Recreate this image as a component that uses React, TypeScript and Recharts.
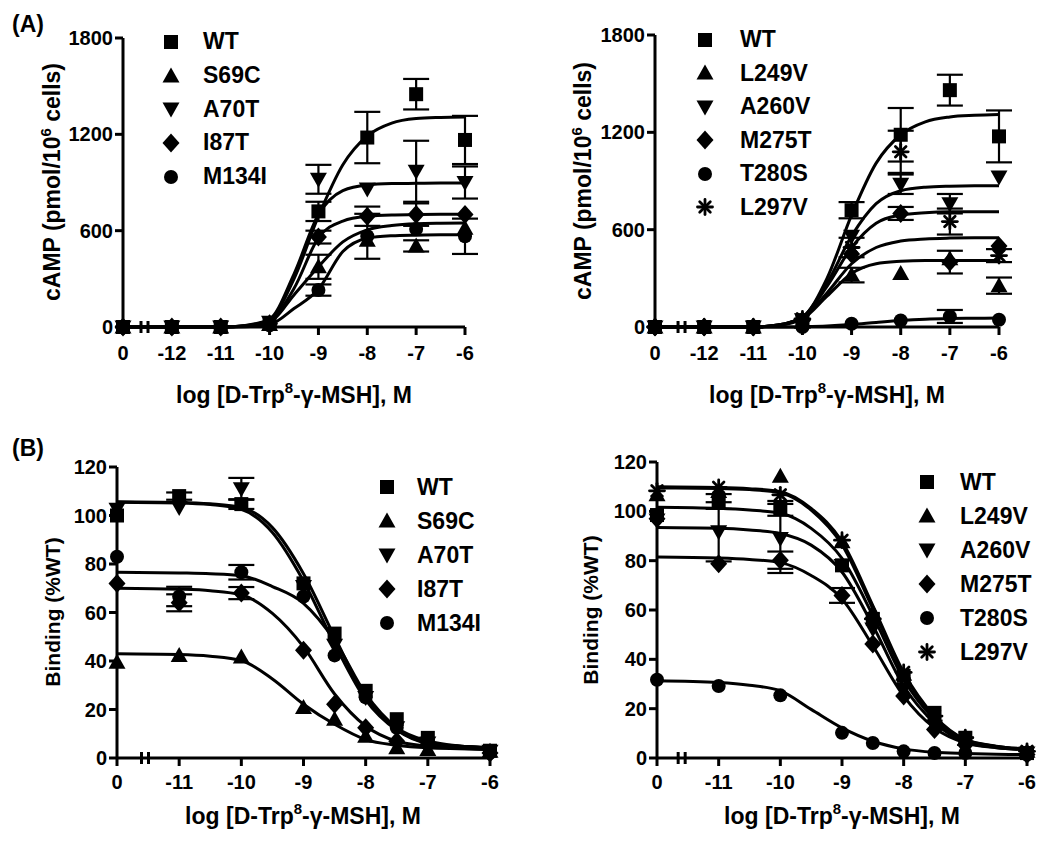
import React from "react";
import {
  ComposedChart,
  Line,
  Scatter,
  XAxis,
  YAxis,
  ErrorBar,
  ReferenceDot,
  Legend,
} from "recharts";

const FONT = "'Liberation Sans', Arial, Helvetica, sans-serif";

// ─── Doses (log M); 0 = no ligand, drawn one slot left of the first dose ─────

const dosesA = [0, -12, -11, -10, -9, -8, -7, -6];
const fitDosesA = [0, -12, -11, -10.5, -10, -9.5, -9, -8.5, -8, -7.5, -7, -6.5, -6];
const xTicksA = [0, -12, -11, -10, -9, -8, -7, -6];
const yTicksA = [0, 600, 1200, 1800];

const dosesB = [0, -11, -10, -9, -8.5, -8, -7.5, -7, -6];
const fitDosesB = [0, -11, -10.5, -10, -9.5, -9, -8.5, -8, -7.5, -7, -6.5, -6];
const xTicksB = [0, -11, -10, -9, -8, -7, -6];
const yTicksB = [0, 20, 40, 60, 80, 100, 120];

// ─── (A) cAMP, left ───────────────────────────────────────────────────────────

const a1WT = [0, 0, 0, 20, 720, 1180, 1450, 1165];
const a1WTsem = [0, 0, 0, 0, 60, 160, 95, 150];
const a1WTfit = [0, 0, 0, 8, 45, 300, 690, 1010, 1190, 1270, 1298, 1305, 1308];
const a1S69C = [0, 0, 0, 15, 375, 540, 505, 615];
const a1S69Csem = [0, 0, 0, 0, 75, 0, 35, 0];
const a1S69Cfit = [0, 0, 0, 4, 30, 200, 375, 530, 605, 632, 643, 646, 647];
const a1A70T = [0, 0, 0, 30, 920, 860, 970, 900];
const a1A70Tsem = [0, 0, 0, 0, 90, 0, 190, 100];
const a1A70Tfit = [0, 0, 0, 10, 50, 330, 700, 850, 885, 893, 895, 897, 897];
const a1I87T = [0, 0, 0, 20, 560, 690, 700, 700];
const a1I87Tsem = [0, 0, 0, 0, 40, 60, 70, 0];
const a1I87Tfit = [0, 0, 0, 7, 40, 240, 555, 660, 690, 698, 700, 702, 703];
const a1M134I = [0, 0, 0, 10, 230, 565, 610, 565];
const a1M134Isem = [0, 0, 0, 0, 35, 140, 0, 110];
const a1M134Ifit = [0, 0, 0, 2, 15, 115, 235, 470, 553, 568, 572, 574, 574];

// ─── (A) cAMP, right ──────────────────────────────────────────────────────────

const a2WT = [0, 0, 0, 40, 720, 1185, 1460, 1175];
const a2WTsem = [0, 0, 0, 0, 50, 165, 95, 160];
const a2WTfit = [0, 0, 0, 12, 60, 300, 690, 1010, 1185, 1265, 1295, 1305, 1310];
const a2L249V = [0, 0, 0, 30, 320, 330, 420, 255];
const a2L249Vsem = [0, 0, 0, 0, 45, 0, 0, 50];
const a2L249Vfit = [0, 0, 0, 10, 50, 190, 330, 390, 405, 410, 410, 410, 410];
const a2A260V = [0, 0, 0, 45, 560, 880, 760, 925];
const a2A260Vsem = [0, 0, 0, 0, 0, 60, 60, 0];
const a2A260Vfit = [0, 0, 0, 12, 60, 270, 560, 760, 840, 862, 868, 870, 870];
const a2M275T = [0, 0, 0, 40, 450, 700, 400, 500];
const a2M275Tsem = [0, 0, 0, 0, 0, 40, 70, 0];
const a2M275Tfit = [0, 0, 0, 10, 55, 210, 390, 490, 530, 543, 548, 550, 550];
const a2T280S = [0, 0, 0, 0, 20, 40, 65, 45];
const a2T280Ssem = [0, 0, 0, 0, 0, 0, 40, 0];
const a2T280Sfit = [0, 0, 0, 0, 2, 6, 15, 28, 40, 48, 52, 54, 55];
const a2L297V = [0, 0, 0, 50, 490, 1080, 650, 440];
const a2L297Vsem = [0, 0, 0, 0, 60, 130, 80, 40];
const a2L297Vfit = [0, 0, 0, 12, 60, 250, 490, 640, 690, 705, 710, 710, 710];

// ─── (B) Binding, left ────────────────────────────────────────────────────────

const b1WT = [100, 108, 104.7, 72, 51.3, 27.7, 16, 8.3, 3];
const b1WTsem = [0, 1.5, 2, 0, 0, 0, 0, 0, 0];
const b1WTfit = [105.7, 105.4, 104.8, 103.3, 95, 76, 50, 25, 11.8, 6.2, 4.9, 4.2];
const b1S69C = [39.5, 42.3, 41.6, 20.8, 16, 9, 4.2, 3.5, 2.8];
const b1S69Csem = [0, 0, 0, 0, 0, 0, 0, 0, 0];
const b1S69Cfit = [43, 42.7, 42, 40.2, 32.6, 22.2, 13.9, 7.6, 5.3, 4.2, 3.8, 3.5];
const b1A70T = [102.6, 103.3, 111, 70.7, 46.5, 25, 12.5, 6.2, 2.8];
const b1A70Tsem = [0, 0, 4.5, 0, 0, 0, 0, 0, 0];
const b1A70Tfit = [105.5, 105.2, 104.5, 102.5, 93, 73, 47, 24, 11.5, 6, 4.8, 4.1];
const b1I87T = [72, 64, 68, 44.4, 22.2, 12.5, 6.9, 5.5, 2.1];
const b1I87Tsem = [0, 3.5, 2.5, 0, 0, 0, 0, 0, 0];
const b1I87Tfit = [70, 69.6, 69, 67.3, 59.6, 45.8, 26.4, 13.2, 6.9, 4.9, 4, 3.5];
const b1M134I = [83, 66.6, 76.6, 66.6, 42.3, 25, 12.5, 6.9, 2.1];
const b1M134Isem = [0, 4, 3, 0, 0, 0, 0, 0, 0];
const b1M134Ifit = [76.6, 76.3, 76, 75.2, 70.7, 63.8, 48.5, 26.4, 12.5, 7, 5, 4.4];

// ─── (B) Binding, right ───────────────────────────────────────────────────────

const b2WT = [98.5, 104, 101.2, 78.1, 56.4, 33.3, 18.3, 8.2, 2];
const b2WTsem = [0, 3, 3, 0, 0, 0, 0, 0, 0];
const b2WTfit = [101.7, 101.2, 100.5, 99.2, 93.1, 80.9, 57.8, 31.9, 15.6, 6.8, 4.5, 3.4];
const b2L249V = [106.7, 108, 114.2, 87.7, 59, 34, 17, 7.5, 2.7];
const b2L249Vsem = [0, 0, 0, 0, 0, 0, 0, 0, 0];
const b2L249Vfit = [109.5, 109.3, 108.8, 107.5, 100.5, 86.5, 60.5, 34, 16.5, 7.3, 4.7, 3.6];
const b2A260V = [96.5, 91.7, 89, 78, 52.3, 27.9, 12.9, 6.1, 2];
const b2A260Vsem = [0, 12, 14, 0, 0, 0, 0, 0, 0];
const b2A260Vfit = [93.4, 93.1, 92.4, 91, 86.3, 75.4, 53.7, 29.2, 14.3, 6.5, 4.3, 3.4];
const b2M275T = [97, 78.8, 80.2, 65.9, 46.2, 25.1, 11.6, 5.4, 1.4];
const b2M275Tsem = [0, 0, 3.5, 3, 0, 0, 0, 0, 0];
const b2M275Tfit = [81.5, 81.1, 80.5, 79.2, 74, 64.5, 45.5, 25.1, 12.2, 6.1, 4.2, 3.4];
const b2T280S = [31.7, 29.2, 25.4, 10.2, 6.1, 2.7, 2, 2, 1.4];
const b2T280Ssem = [0, 0, 0, 0, 0, 0, 0, 0, 0];
const b2T280Sfit = [31.3, 30.6, 29.5, 27.2, 19.7, 12.2, 6.8, 3.7, 2.3, 1.8, 1.5, 1.4];
const b2L297V = [108.3, 109.7, 106.7, 88.3, 56.4, 34.7, 17, 8.2, 2.7];
const b2L297Vsem = [0, 0, 0, 0, 0, 0, 0, 0, 0];
const b2L297Vfit = [110, 109.7, 109.2, 108, 101.2, 87.7, 61.8, 34.7, 17, 7.5, 4.8, 3.7];

// ─── Symbols ──────────────────────────────────────────────────────────────────

type Kind = "square" | "up" | "down" | "diamond" | "circle" | "star";

const SYMBOL: Record<string, Kind> = {
  WT: "square",
  S69C: "up",
  L249V: "up",
  A70T: "down",
  A260V: "down",
  I87T: "diamond",
  M275T: "diamond",
  M134I: "circle",
  T280S: "circle",
  L297V: "star",
};

function Marker({ kind, cx, cy }: { kind: Kind; cx: number; cy: number }) {
  if (cx == null || cy == null || isNaN(cx) || isNaN(cy)) return null;
  switch (kind) {
    case "square":
      return <rect x={cx - 7} y={cy - 7} width={14} height={14} fill="#000" />;
    case "up":
      return (
        <polygon
          points={`${cx},${cy - 8.5} ${cx + 8.5},${cy + 6.5} ${cx - 8.5},${cy + 6.5}`}
          fill="#000"
        />
      );
    case "down":
      return (
        <polygon
          points={`${cx},${cy + 8.5} ${cx + 8.5},${cy - 6.5} ${cx - 8.5},${cy - 6.5}`}
          fill="#000"
        />
      );
    case "diamond":
      return (
        <polygon
          points={`${cx},${cy - 9.5} ${cx + 8.5},${cy} ${cx},${cy + 9.5} ${cx - 8.5},${cy}`}
          fill="#000"
        />
      );
    case "circle":
      return <circle cx={cx} cy={cy} r={7} fill="#000" />;
    case "star":
      return (
        <g stroke="#000" strokeWidth={2.8} strokeLinecap="round">
          <line x1={cx - 7.5} y1={cy} x2={cx + 7.5} y2={cy} />
          <line x1={cx} y1={cy - 7.5} x2={cx} y2={cy + 7.5} />
          <line x1={cx - 5.3} y1={cy - 5.3} x2={cx + 5.3} y2={cy + 5.3} />
          <line x1={cx - 5.3} y1={cy + 5.3} x2={cx + 5.3} y2={cy - 5.3} />
        </g>
      );
  }
  return null;
}

// ─── Axis decorations ─────────────────────────────────────────────────────────

function BreakMark(props: any) {
  const { cx, cy } = props;
  if (cx == null || cy == null) return null;
  return (
    <g stroke="#000" strokeWidth={3}>
      <line x1={cx - 3.5} y1={cy - 6} x2={cx - 3.5} y2={cy + 6} />
      <line x1={cx + 3.5} y1={cy - 6} x2={cx + 3.5} y2={cy + 6} />
    </g>
  );
}

function XTitle({ px, py }: { px: number; py: number }) {
  return (
    <text
      x={px}
      y={py}
      textAnchor="middle"
      fontFamily={FONT}
      fontWeight={700}
      fontSize={23}
      fill="#000"
    >
      log [D-Trp
      <tspan dy={-10} fontSize={15}>
        8
      </tspan>
      <tspan dy={10}>-γ-MSH], M</tspan>
    </text>
  );
}

function YTitle({
  px,
  py,
  size,
  children,
}: {
  px: number;
  py: number;
  size: number;
  children?: React.ReactNode;
}) {
  return (
    <text
      x={px}
      y={py + size * 0.36}
      transform={`rotate(-90, ${px}, ${py})`}
      textAnchor="middle"
      fontFamily={FONT}
      fontWeight={700}
      fontSize={size}
      fill="#000"
    >
      {children}
    </text>
  );
}

function LegendBox({
  names,
  rowH,
  gap,
}: {
  names: string[];
  rowH: number;
  gap: number;
}) {
  return (
    <div style={{ fontFamily: FONT, fontWeight: 700, fontSize: 23, color: "#000" }}>
      {names.map((n) => (
        <div
          key={n}
          style={{ height: rowH, display: "flex", alignItems: "center" }}
        >
          <svg width={20} height={20} style={{ flexShrink: 0 }}>
            <Marker kind={SYMBOL[n]} cx={10} cy={10} />
          </svg>
          <span style={{ marginLeft: gap, lineHeight: 1 }}>{n}</span>
        </div>
      ))}
    </div>
  );
}

// ─── Panel ────────────────────────────────────────────────────────────────────

interface Series {
  name: string;
  mean: number[];
  sem: number[];
  fit: number[];
}

interface PanelProps {
  left: number;
  top: number;
  width: number;
  height: number;
  margin: { top: number; right: number; bottom: number; left: number };
  xAxisH: number;
  tickGap: number;
  zero: number;
  breakAt: number;
  doses: number[];
  fitDoses: number[];
  xTicks: number[];
  yMax: number;
  yTicks: number[];
  series: Series[];
  yTitle: React.ReactNode;
  yTitleSize: number;
  yTitlePos: [number, number];
  xTitlePos: [number, number];
  legend: { left: number; top: number; rowH: number; gap: number };
}

const slot = (d: number, zero: number) => (d === 0 ? zero : d);

function Panel(p: PanelProps) {
  const tickStyle = { fill: "#000", fontSize: 20, fontWeight: 700, fontFamily: FONT };
  const axisLine = { stroke: "#000", strokeWidth: 3 };
  const ticks = p.xTicks.map((t) => slot(t, p.zero));

  return (
    <div style={{ position: "absolute", left: p.left, top: p.top }}>
      <ComposedChart width={p.width} height={p.height} margin={p.margin}>
        <XAxis
          type="number"
          dataKey="x"
          domain={[p.zero, -6]}
          ticks={ticks}
          interval={0}
          tickFormatter={(v: number) => (v === p.zero ? "0" : String(v))}
          height={p.xAxisH}
          axisLine={axisLine}
          tickLine={axisLine}
          tickSize={8}
          tickMargin={p.tickGap}
          tick={tickStyle}
          label={<XTitle px={p.xTitlePos[0]} py={p.xTitlePos[1]} />}
        />
        <YAxis
          type="number"
          dataKey="y"
          domain={[0, p.yMax]}
          ticks={p.yTicks}
          interval={0}
          width={100}
          axisLine={axisLine}
          tickLine={axisLine}
          tickSize={8}
          tickMargin={2}
          tick={tickStyle}
          label={
            <YTitle px={p.yTitlePos[0]} py={p.yTitlePos[1]} size={p.yTitleSize}>
              {p.yTitle}
            </YTitle>
          }
        />
        <ReferenceDot x={p.breakAt} y={0} r={0} shape={BreakMark} />

        {p.series.map((s) => (
          <Line
            key={`fit-${s.name}`}
            data={s.fit.map((v, i) => ({ x: slot(p.fitDoses[i], p.zero), y: v }))}
            dataKey="y"
            type="monotone"
            stroke="#000"
            strokeWidth={3}
            dot={false}
            activeDot={false}
            isAnimationActive={false}
          />
        ))}

        {p.series.map((s) => (
          <Scatter
            key={`pts-${s.name}`}
            name={s.name}
            data={s.mean.map((v, i) => ({
              x: slot(p.doses[i], p.zero),
              y: v,
              e: s.sem[i],
            }))}
            dataKey="y"
            isAnimationActive={false}
            shape={(props: any) => (
              <Marker kind={SYMBOL[s.name]} cx={props.cx} cy={props.cy} />
            )}
          >
            <ErrorBar
              dataKey="e"
              direction="y"
              width={13}
              strokeWidth={2.2}
              stroke="#000"
              isAnimationActive={false}
            />
          </Scatter>
        ))}

        <Legend
          layout="horizontal"
          verticalAlign="middle"
          align="center"
          wrapperStyle={{
            left: p.legend.left,
            top: p.legend.top,
            width: 220,
            height: p.legend.rowH * p.series.length,
          }}
          content={
            <LegendBox
              names={p.series.map((s) => s.name)}
              rowH={p.legend.rowH}
              gap={p.legend.gap}
            />
          }
        />
      </ComposedChart>
    </div>
  );
}

// ─── Series lists ─────────────────────────────────────────────────────────────

const seriesA1: Series[] = [
  { name: "WT", mean: a1WT, sem: a1WTsem, fit: a1WTfit },
  { name: "S69C", mean: a1S69C, sem: a1S69Csem, fit: a1S69Cfit },
  { name: "A70T", mean: a1A70T, sem: a1A70Tsem, fit: a1A70Tfit },
  { name: "I87T", mean: a1I87T, sem: a1I87Tsem, fit: a1I87Tfit },
  { name: "M134I", mean: a1M134I, sem: a1M134Isem, fit: a1M134Ifit },
];

const seriesA2: Series[] = [
  { name: "WT", mean: a2WT, sem: a2WTsem, fit: a2WTfit },
  { name: "L249V", mean: a2L249V, sem: a2L249Vsem, fit: a2L249Vfit },
  { name: "A260V", mean: a2A260V, sem: a2A260Vsem, fit: a2A260Vfit },
  { name: "M275T", mean: a2M275T, sem: a2M275Tsem, fit: a2M275Tfit },
  { name: "T280S", mean: a2T280S, sem: a2T280Ssem, fit: a2T280Sfit },
  { name: "L297V", mean: a2L297V, sem: a2L297Vsem, fit: a2L297Vfit },
];

const seriesB1: Series[] = [
  { name: "WT", mean: b1WT, sem: b1WTsem, fit: b1WTfit },
  { name: "S69C", mean: b1S69C, sem: b1S69Csem, fit: b1S69Cfit },
  { name: "A70T", mean: b1A70T, sem: b1A70Tsem, fit: b1A70Tfit },
  { name: "I87T", mean: b1I87T, sem: b1I87Tsem, fit: b1I87Tfit },
  { name: "M134I", mean: b1M134I, sem: b1M134Isem, fit: b1M134Ifit },
];

const seriesB2: Series[] = [
  { name: "WT", mean: b2WT, sem: b2WTsem, fit: b2WTfit },
  { name: "L249V", mean: b2L249V, sem: b2L249Vsem, fit: b2L249Vfit },
  { name: "A260V", mean: b2A260V, sem: b2A260Vsem, fit: b2A260Vfit },
  { name: "M275T", mean: b2M275T, sem: b2M275Tsem, fit: b2M275Tfit },
  { name: "T280S", mean: b2T280S, sem: b2T280Ssem, fit: b2T280Sfit },
  { name: "L297V", mean: b2L297V, sem: b2L297Vsem, fit: b2L297Vfit },
];

const campTitle = (
  <>
    cAMP (pmol/10
    <tspan dy={-9} fontSize={15}>
      6
    </tspan>
    <tspan dy={9}> cells)</tspan>
  </>
);

const panelLabel: React.CSSProperties = {
  position: "absolute",
  left: 12,
  fontFamily: FONT,
  fontWeight: 700,
  fontSize: 23,
  lineHeight: 1,
  color: "#000",
};

export default function App() {
  return (
    <div
      style={{
        position: "absolute",
        left: 0,
        top: 0,
        width: 1050,
        height: 842,
        background: "#fff",
        overflow: "hidden",
      }}
    >
      <div style={{ ...panelLabel, top: 13 }}>(A)</div>
      <div style={{ ...panelLabel, top: 437 }}>(B)</div>

      <Panel
        left={0}
        top={0}
        width={525}
        height={420}
        margin={{ top: 38, right: 60, bottom: 3, left: 23 }}
        xAxisH={90}
        tickGap={11}
        zero={-13}
        breakAt={-12.56}
        doses={dosesA}
        fitDoses={fitDosesA}
        xTicks={xTicksA}
        yMax={1800}
        yTicks={yTicksA}
        series={seriesA1}
        yTitle={campTitle}
        yTitleSize={23}
        yTitlePos={[52, 182]}
        xTitlePos={[294, 403]}
        legend={{ left: 161, top: 25, rowH: 33.7, gap: 22 }}
      />
      <Panel
        left={525}
        top={0}
        width={525}
        height={420}
        margin={{ top: 35, right: 51, bottom: 3, left: 30 }}
        xAxisH={90}
        tickGap={11}
        zero={-13}
        breakAt={-12.46}
        doses={dosesA}
        fitDoses={fitDosesA}
        xTicks={xTicksA}
        yMax={1800}
        yTicks={yTicksA}
        series={seriesA2}
        yTitle={campTitle}
        yTitleSize={23}
        yTitlePos={[58, 181]}
        xTitlePos={[302, 403]}
        legend={{ left: 170, top: 23, rowH: 33.5, gap: 25 }}
      />
      <Panel
        left={0}
        top={420}
        width={525}
        height={422}
        margin={{ top: 47, right: 35, bottom: 4, left: 17 }}
        xAxisH={80}
        tickGap={9}
        zero={-12}
        breakAt={-11.55}
        doses={dosesB}
        fitDoses={fitDosesB}
        xTicks={xTicksB}
        yMax={120}
        yTicks={yTicksB}
        series={seriesB1}
        yTitle="Binding (%WT)"
        yTitleSize={21}
        yTitlePos={[52, 192]}
        xTitlePos={[303, 404]}
        legend={{ left: 377, top: 50, rowH: 34, gap: 20 }}
      />
      <Panel
        left={525}
        top={420}
        width={525}
        height={422}
        margin={{ top: 42, right: 23, bottom: 4, left: 32 }}
        xAxisH={80}
        tickGap={9}
        zero={-12}
        breakAt={-11.6}
        doses={dosesB}
        fitDoses={fitDosesB}
        xTicks={xTicksB}
        yMax={120}
        yTicks={yTicksB}
        series={seriesB2}
        yTitle="Binding (%WT)"
        yTitleSize={21}
        yTitlePos={[65, 190]}
        xTitlePos={[317, 404]}
        legend={{ left: 392, top: 45, rowH: 34, gap: 23 }}
      />
    </div>
  );
}
